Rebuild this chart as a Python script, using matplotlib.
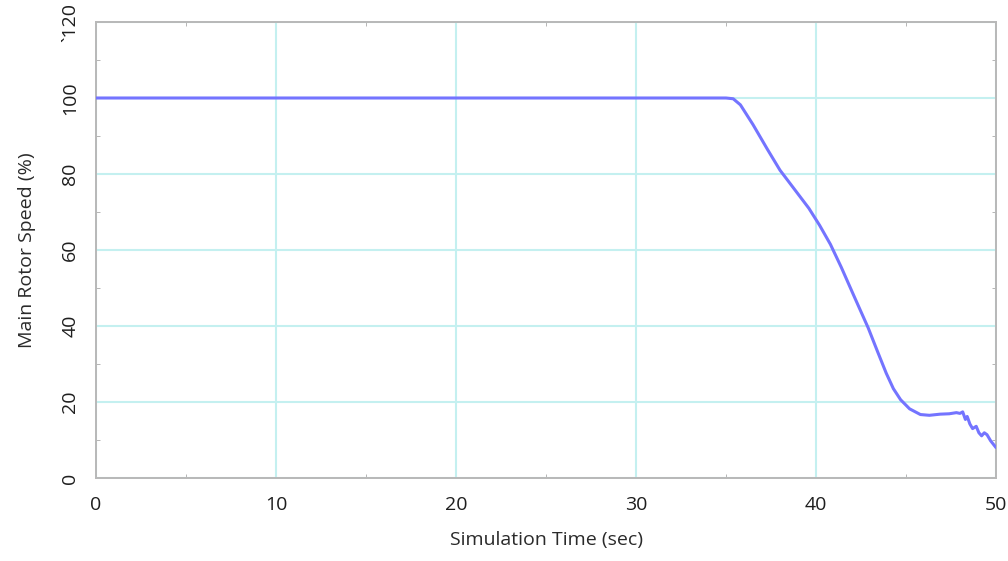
import matplotlib
matplotlib.use("Agg")
import matplotlib.pyplot as plt
from matplotlib.ticker import MultipleLocator

# Main rotor speed during the simulated run
time_s = [0, 10, 20, 30, 35.0, 35.4, 35.8, 36.5, 37.3, 38.0, 38.8, 39.6, 40.2,
          40.8, 41.4, 42.1, 42.9, 43.4, 43.9, 44.3, 44.7, 45.2, 45.8, 46.3,
          46.9, 47.4, 47.8, 48.0, 48.15, 48.3, 48.4, 48.55, 48.7, 48.9, 49.05,
          49.2, 49.35, 49.5, 49.7, 50.0]
speed_pct = [100, 100, 100, 100, 100, 99.8, 98.2, 93.0, 86.5, 81.0, 76.0, 71.0, 66.5,
             61.5, 55.5, 48.0, 39.5, 33.5, 27.6, 23.5, 20.6, 18.2, 16.7, 16.5,
             16.8, 16.9, 17.2, 17.0, 17.4, 15.4, 16.2, 14.2, 13.0, 13.6, 11.9,
             11.1, 11.9, 11.4, 9.8, 8.0]

x_ticks = [0, 10, 20, 30, 40, 50]
y_ticks = [0, 20, 40, 60, 80, 100, 120]
y_tick_labels = ["0", "20", "40", "60", "80", "100", "`120"]

plt.rcParams["font.family"] = ["Open Sans", "DejaVu Sans"]

fig = plt.figure(figsize=(10.08, 5.61), dpi=100)
ax = fig.add_axes([96 / 1008, 1 - 478 / 561, (996 - 96) / 1008, (478 - 22) / 561])

ax.plot(time_s, speed_pct, color="#7474ff", linewidth=2.2, solid_joinstyle="round",
        solid_capstyle="round", zorder=3)

ax.set_xlim(0, 50)
ax.set_ylim(0, 120)
ax.set_xticks(x_ticks)
ax.set_yticks(y_ticks)
ax.set_yticklabels(y_tick_labels, rotation=90, va="center")
for lbl in ax.get_xticklabels():
    lbl.set_x(lbl.get_position()[0])
ax.xaxis.set_minor_locator(MultipleLocator(5))
ax.yaxis.set_minor_locator(MultipleLocator(10))

ax.grid(True, which="major", color="#c4f0f0", linewidth=1.5, zorder=0)
ax.tick_params(axis="x", which="major", length=0, labelsize=14, colors="#1e1e1e", pad=13)
ax.tick_params(axis="y", which="major", length=0, labelsize=14, colors="#1e1e1e", pad=12)
ax.tick_params(which="minor", direction="in", length=3, color="#aaaaaa",
               top=True, right=True)
for sp in ax.spines.values():
    sp.set_color("#b8b8b8")
    sp.set_linewidth(1.4)

ax.set_xlabel("Simulation Time (sec)", fontsize=14, color="#2a2a2a", labelpad=12)
ax.set_ylabel("Main Rotor Speed (%)", fontsize=14, color="#2a2a2a", labelpad=18)

fig.savefig("out.png", dpi=100, facecolor="white")
